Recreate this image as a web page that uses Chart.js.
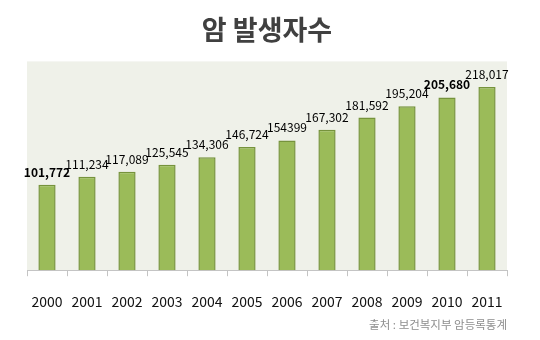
<!DOCTYPE html>
<html>
<head>
<meta charset="utf-8">
<script src="https://cdn.jsdelivr.net/npm/chart.js@4"></script>
<style>
    html, body { margin: 0; padding: 0; background: #fff; }
    #wrap { width: 540px; height: 340px; }
</style>
</head>
<body>
<div id="wrap"><canvas id="cancer-chart"></canvas></div>
<script>
// 연도별 암 발생자수
const years = ['2000', '2001', '2002', '2003', '2004', '2005', '2006', '2007', '2008', '2009', '2010', '2011'];
const cases = [101772, 111234, 117089, 125545, 134306, 146724, 154399, 167302, 181592, 195204, 205680, 218017];
const boldYears = ['2000', '2010'];
const noCommaYears = ['2006'];

const fontKr = '"Noto Sans CJK KR", "Noto Sans", sans-serif';

// plot area background
const plotBg = {
    id: 'plotBg',
    beforeDraw(chart) {
        const { ctx, chartArea: a } = chart;
        ctx.save();
        ctx.fillStyle = '#eff1e9';
        ctx.fillRect(a.left, a.top, a.right - a.left, a.bottom - a.top);
        ctx.restore();
    }
};

// value labels above the bars + source note
const valueLabels = {
    id: 'valueLabels',
    afterDatasetsDraw(chart) {
        const { ctx } = chart;
        const meta = chart.getDatasetMeta(0);
        ctx.save();
        ctx.textAlign = 'center';
        ctx.textBaseline = 'alphabetic';
        ctx.fillStyle = '#000';
        meta.data.forEach((bar, i) => {
            const v = cases[i];
            const txt = noCommaYears.includes(years[i]) ? String(v) : v.toLocaleString('en-US');
            ctx.font = (boldYears.includes(years[i]) ? 'bold ' : '') + '12px ' + fontKr;
            ctx.fillText(txt, bar.x, bar.y - 8);
        });
        ctx.font = '11.5px ' + fontKr;
        ctx.fillStyle = '#8e8e8e';
        ctx.textAlign = 'right';
        ctx.textBaseline = 'middle';
        ctx.fillText('출처 : 보건복지부 암등록통계', chart.chartArea.right, 325);
        ctx.restore();
    }
};

new Chart(document.getElementById('cancer-chart'), {
    type: 'bar',
    data: {
        labels: years,
        datasets: [
            {
                label: '암 발생자수',
                data: cases,
                backgroundColor: '#9bbb59',
                borderColor: '#76933c',
                borderWidth: 1.5,
                barPercentage: 0.43,
                categoryPercentage: 1,
            }
        ]
    },
    options: {
        responsive: true,
        maintainAspectRatio: false,
        animation: false,
        layout: {
            padding: { left: 27, right: 33, top: 0, bottom: 13 },
        },
        scales: {
            x: {
                grid: {
                    drawOnChartArea: false,
                    tickLength: 6,
                    color: '#c4c4c4',
                },
                border: { color: '#c4c4c4' },
                ticks: {
                    color: '#111',
                    padding: 17,
                    font: { family: fontKr, size: 14 },
                },
            },
            y: {
                display: false,
                min: 0,
                max: 248500,
            },
        },
        plugins: {
            legend: { display: false },
            tooltip: { enabled: false },
            title: {
                display: true,
                text: '암 발생자수',
                color: '#404040',
                font: { family: fontKr, size: 27, weight: 'bold' },
                padding: { top: 14, bottom: 15 },
            },
        },
    },
    plugins: [plotBg, valueLabels],
});
</script>
</body>
</html>
